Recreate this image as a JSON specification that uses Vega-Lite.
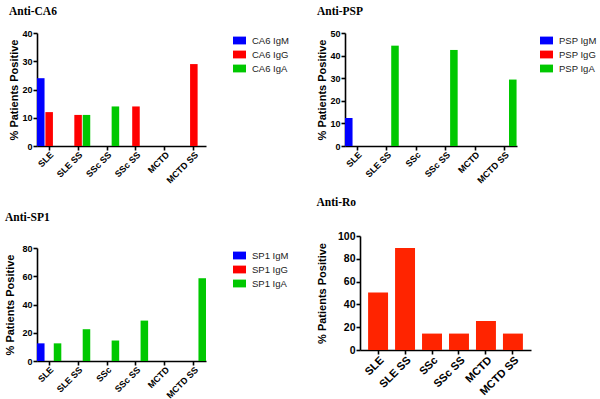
{
  "$schema": "https://vega.github.io/schema/vega-lite/v6.json",
  "background": "white",
  "padding": {"left": 4, "top": 5, "right": 0, "bottom": 0},
  "config": {
    "view": {"stroke": null},
    "font": "Liberation Sans",
    "axis": {"labelFont": "Liberation Sans", "labelFontWeight": "bold", "labelColor": "black", "titleFont": "Liberation Sans", "titleFontWeight": "bold", "titleFontSize": 11, "titleColor": "black", "titlePadding": 2, "domainColor": "black", "domainWidth": 1.6, "tickColor": "black", "tickWidth": 1.6, "tickSize": 4, "grid": false, "labelPadding": 1},
    "axisX": {"labelAngle": -45, "labelOverlap": false, "labelPadding": 0},
    "legend": {"symbolType": "M-1,-0.6H1V0.6H-1Z", "symbolSize": 169, "symbolStrokeWidth": 0, "symbolOpacity": 1, "labelFont": "Liberation Sans", "labelFontSize": 9.5, "labelColor": "#222222", "labelOffset": 6, "rowPadding": 3, "padding": 1, "offset": 26},
    "title": {"font": "Liberation Serif", "fontWeight": "bold", "fontSize": 11.5, "color": "black", "anchor": "start", "offset": 12}
  },
  "datasets": {
    "ca6": [
      {"cat": "SLE", "iso": "IgM", "series": "CA6 IgM", "v": 24},
      {"cat": "SLE", "iso": "IgG", "series": "CA6 IgG", "v": 12},
      {"cat": "SLE SS", "iso": "IgG", "series": "CA6 IgG", "v": 11},
      {"cat": "SLE SS", "iso": "IgA", "series": "CA6 IgA", "v": 11},
      {"cat": "SSc", "iso": "IgA", "series": "CA6 IgA", "v": 14},
      {"cat": "SSc SS", "iso": "IgG", "series": "CA6 IgG", "v": 14},
      {"cat": "MCTD SS", "iso": "IgG", "series": "CA6 IgG", "v": 29}
    ],
    "psp": [
      {"cat": "SLE", "iso": "IgM", "series": "PSP IgM", "v": 12.4},
      {"cat": "SLE SS", "iso": "IgA", "series": "PSP IgA", "v": 44.4},
      {"cat": "SSc SS", "iso": "IgA", "series": "PSP IgA", "v": 42.5},
      {"cat": "MCTD SS", "iso": "IgA", "series": "PSP IgA", "v": 29.4}
    ],
    "sp1": [
      {"cat": "SLE", "iso": "IgM", "series": "SP1 IgM", "v": 12.5},
      {"cat": "SLE", "iso": "IgA", "series": "SP1 IgA", "v": 12.5},
      {"cat": "SLE SS", "iso": "IgA", "series": "SP1 IgA", "v": 22.5},
      {"cat": "SSc", "iso": "IgA", "series": "SP1 IgA", "v": 14.5},
      {"cat": "SSc SS", "iso": "IgA", "series": "SP1 IgA", "v": 28.6},
      {"cat": "MCTD SS", "iso": "IgA", "series": "SP1 IgA", "v": 58.6}
    ],
    "ro": [
      {"cat": "SLE", "v": 50.5},
      {"cat": "SLE SS", "v": 89.4},
      {"cat": "SSc", "v": 14.4},
      {"cat": "SSc SS", "v": 14.4},
      {"cat": "MCTD", "v": 25.5},
      {"cat": "MCTD SS", "v": 14.4}
    ]
  },
  "resolve": {"scale": {"color": "independent"}, "legend": {"color": "independent"}},
  "columns": 2,
  "align": "none",
  "spacing": {"row": 10, "column": 26},
  "concat": [
    {
      "title": {"text": "Anti-CA6"},
      "width": 169, "height": 113,
      "data": {"name": "ca6"},
      "mark": {"type": "bar"},
      "encoding": {
        "x": {"field": "cat", "type": "nominal", "scale": {"domain": ["SLE", "SLE SS", "SSc", "SSc SS", "MCTD", "MCTD SS"], "paddingInner": 0.16, "paddingOuter": 0}, "axis": {"title": null, "labelFontSize": 9, "labelExpr": "datum.value == 'SSc' ? 'SSc SS' : datum.value"}},
        "xOffset": {"field": "iso", "type": "nominal", "scale": {"domain": ["IgM", "IgG", "IgA"], "paddingInner": 0.1, "paddingOuter": 0}},
        "y": {"field": "v", "type": "quantitative", "scale": {"domain": [0, 40], "nice": false}, "axis": {"title": "% Patients Positive", "values": [0, 10, 20, 30, 40], "labelFontSize": 9}},
        "color": {"field": "series", "type": "nominal", "scale": {"domain": ["CA6 IgM", "CA6 IgG", "CA6 IgA"], "range": ["#0000ff", "#ff0000", "#00c800"]}, "legend": {"title": null}}
      }
    },
    {
      "title": {"text": "Anti-PSP"},
      "width": 172, "height": 113,
      "data": {"name": "psp"},
      "mark": {"type": "bar"},
      "encoding": {
        "x": {"field": "cat", "type": "nominal", "scale": {"domain": ["SLE", "SLE SS", "SSc", "SSc SS", "MCTD", "MCTD SS"], "paddingInner": 0.16, "paddingOuter": 0}, "axis": {"title": null, "labelFontSize": 9}},
        "xOffset": {"field": "iso", "type": "nominal", "scale": {"domain": ["IgM", "IgG", "IgA"], "paddingInner": 0.1, "paddingOuter": 0}},
        "y": {"field": "v", "type": "quantitative", "scale": {"domain": [0, 50], "nice": false}, "axis": {"title": "% Patients Positive", "values": [0, 10, 20, 30, 40, 50], "labelFontSize": 9}},
        "color": {"field": "series", "type": "nominal", "scale": {"domain": ["PSP IgM", "PSP IgG", "PSP IgA"], "range": ["#0000ff", "#ff0000", "#00c800"]}, "legend": {"title": null, "offset": 22}}
      }
    },
    {
      "title": {"text": [" ", "Anti-SP1"], "lineHeight": 15, "offset": 21},
      "width": 169, "height": 113,
      "data": {"name": "sp1"},
      "mark": {"type": "bar"},
      "encoding": {
        "x": {"field": "cat", "type": "nominal", "scale": {"domain": ["SLE", "SLE SS", "SSc", "SSc SS", "MCTD", "MCTD SS"], "paddingInner": 0.16, "paddingOuter": 0}, "axis": {"title": null, "labelFontSize": 9}},
        "xOffset": {"field": "iso", "type": "nominal", "scale": {"domain": ["IgM", "IgG", "IgA"], "paddingInner": 0.1, "paddingOuter": 0}},
        "y": {"field": "v", "type": "quantitative", "scale": {"domain": [0, 80], "nice": false}, "axis": {"title": "% Patients Positive", "values": [0, 20, 40, 60, 80], "labelFontSize": 9, "titlePadding": 6}},
        "color": {"field": "series", "type": "nominal", "scale": {"domain": ["SP1 IgM", "SP1 IgG", "SP1 IgA"], "range": ["#0000ff", "#ff0000", "#00c800"]}, "legend": {"title": null}}
      }
    },
    {
      "title": {"text": "Anti-Ro", "offset": 23},
      "width": 171, "height": 114,
      "data": {"name": "ro"},
      "mark": {"type": "bar", "color": "#ff2400"},
      "encoding": {
        "x": {"field": "cat", "type": "nominal", "scale": {"domain": ["SLE", "SLE SS", "SSc", "SSc SS", "MCTD", "MCTD SS"], "paddingInner": 0.26, "paddingOuter": 0.3}, "axis": {"title": null, "labelFontSize": 11}},
        "y": {"field": "v", "type": "quantitative", "scale": {"domain": [0, 100], "nice": false}, "axis": {"title": "% Patients Positive", "values": [0, 20, 40, 60, 80, 100], "labelFontSize": 10.5, "titlePadding": 10}}
      }
    }
  ]
}
